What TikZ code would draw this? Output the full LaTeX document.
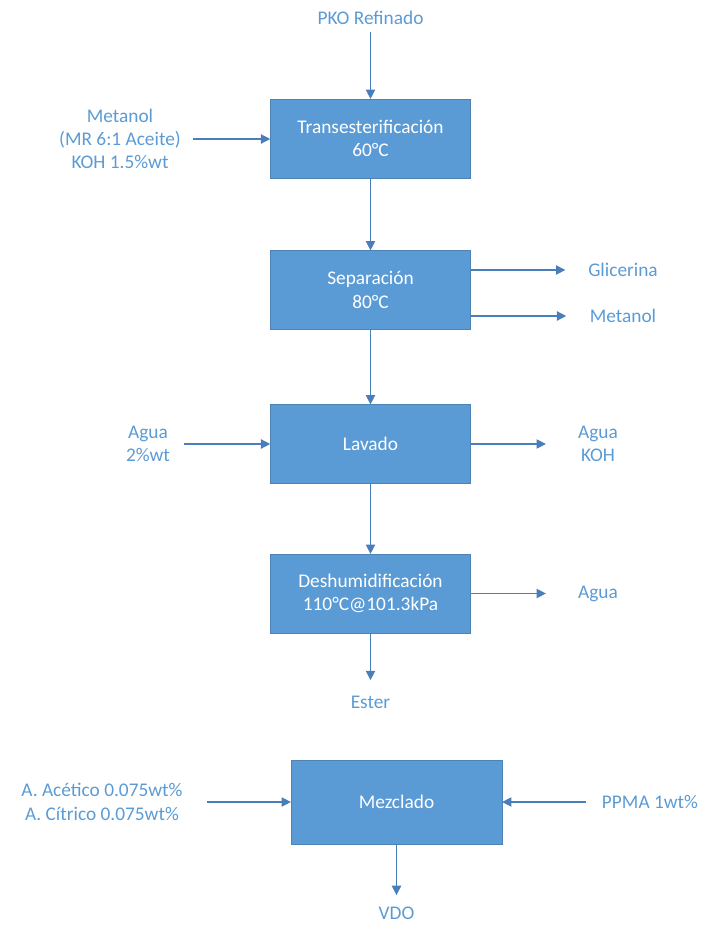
\documentclass[tikz,border=0pt]{standalone}
\usepackage{fontspec}
\setmainfont{Carlito}
\usepackage{xcolor}
\usetikzlibrary{positioning, arrows.meta}
\definecolor{boxblue}{HTML}{5B9BD5}
\definecolor{lineblue}{HTML}{4A7EBB}
\definecolor{textblue}{HTML}{5B9BD5}

\begin{document}
\begin{tikzpicture}[x=0.75pt, y=-0.75pt,
  every node/.style={font=\fontsize{14.5}{17.5}\selectfont, align=center},
  proc/.style={rectangle, fill=boxblue, draw=boxblue!85!black, line width=0.4pt, text=white, minimum width=150pt, minimum height=59pt},
  lbl/.style={text=textblue, inner sep=1pt},
  flow/.style={draw=lineblue, line width=0.9pt, -{Triangle[length=7pt,width=7pt]}}]
  \useasboundingbox (0,0) rectangle (705,929);

  % process blocks
  \node[proc] (trans) at (370.5,138.5) {Transesterificación\\60°C};
  \node[proc] (sep) at (370.5,290) {Separación\\80°C};
  \node[proc] (lav) at (370.5,444) {Lavado};
  \node[proc] (desh) at (370.5,593.5) {Deshumidificación\\110°C@101.3kPa};
  \node[proc, minimum width=158pt, minimum height=63pt] (mez) at (396.5,802) {Mezclado};

  % streams
  \node[lbl] (pko) at (370.5,18) {PKO Refinado};
  \node[lbl] (metin) at (120,139) {Metanol\\(MR 6:1 Aceite)\\KOH 1.5\%wt};
  \node[lbl] (glic) at (623,270) {Glicerina};
  \node[lbl] (metout) at (623,316) {Metanol};
  \node[lbl] (aguain) at (148,444) {Agua\\2\%wt};
  \node[lbl] (aguaout) at (598,444) {Agua\\KOH};
  \node[lbl] (aguadesh) at (598,593.5) {Agua};
  \node[lbl] (ester) at (370.5,702) {Ester};
  \node[lbl] (acids) at (102,802) {A. Acético 0.075wt\%\\A. Cítrico 0.075wt\%};
  \node[lbl] (ppma) at (650,802) {PPMA 1wt\%};
  \node[lbl] (vdo) at (396.5,913) {VDO};

  \draw[flow, shorten <=4.5pt] (pko) -- (trans);
  \draw[flow, shorten <=8pt] (metin) -- (metin -| trans.west);
  \draw[flow] (trans) -- (sep);
  \draw[flow, shorten >=16pt] (sep.east |- glic) -- (glic);
  \draw[flow, shorten >=16.5pt] (sep.east |- metout) -- (metout);
  \draw[flow] (sep) -- (lav);
  \draw[flow, shorten <=9pt] (aguain) -- (lav);
  \draw[flow, shorten >=23pt] (lav) -- (aguaout);
  \draw[flow] (lav) -- (desh);
  \draw[flow, shorten >=23pt] (desh) -- (aguadesh);
  \draw[flow, shorten >=10.5pt] (desh) -- (ester);
  \draw[flow, shorten <=17pt] (acids) -- (mez);
  \draw[flow, shorten <=11pt] (ppma) -- (mez);
  \draw[flow, shorten >=7.5pt] (mez) -- (vdo);
\end{tikzpicture}
\end{document}
